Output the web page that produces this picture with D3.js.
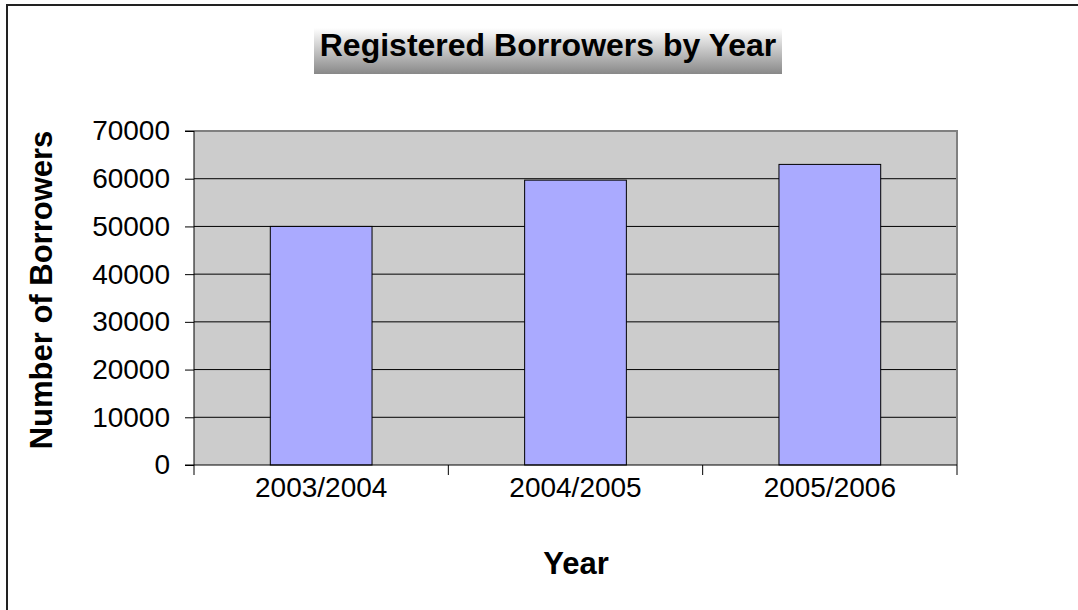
<!DOCTYPE html>
<html>
<head>
<meta charset="utf-8">
<script src="https://cdn.jsdelivr.net/npm/d3@7"></script>
<style>
  body { margin: 0; background: #fff; }
  svg { display: block; font-family: Arial, "Liberation Sans", sans-serif; }
</style>
</head>
<body>
<svg width="1078" height="610"></svg>
<script>
const width = 1078;
const height = 610;
const margin = { top: 131, right: 121, bottom: 145, left: 194 };
const innerWidth = width - margin.left - margin.right;
const innerHeight = height - margin.top - margin.bottom;

// chart data
const years = ["2003/2004", "2004/2005", "2005/2006"];
const borrowers = [50000, 59700, 63000];
const yTicks = [0, 10000, 20000, 30000, 40000, 50000, 60000, 70000];

const svg = d3.select("svg");

// outer chart frame (only top and left edges fall inside the picture)
svg.append("path")
    .attr("d", `M7,${height}V5H${width}`)
    .attr("fill", "none")
    .attr("stroke", "#222")
    .attr("stroke-width", 2);

// title box with grey gradient
const defs = svg.append("defs");
const grad = defs.append("linearGradient")
    .attr("id", "titleGrad")
    .attr("x1", 0).attr("y1", 0).attr("x2", 0).attr("y2", 1);
grad.append("stop").attr("offset", "0%").attr("stop-color", "#ffffff");
grad.append("stop").attr("offset", "100%").attr("stop-color", "#888888");

svg.append("rect")
    .attr("x", 314).attr("y", 28)
    .attr("width", 468).attr("height", 46)
    .attr("fill", "url(#titleGrad)");

svg.append("text")
    .attr("x", 548).attr("y", 56)
    .attr("text-anchor", "middle")
    .attr("font-size", 32)
    .attr("font-weight", "bold")
    .text("Registered Borrowers by Year");

const g = svg.append("g")
    .attr("transform", `translate(${margin.left}, ${margin.top})`);

const x = d3.scaleBand()
    .domain(years)
    .range([0, innerWidth])
    .paddingInner(0.6)
    .paddingOuter(0.3);

const y = d3.scaleLinear()
    .domain([0, 70000])
    .range([innerHeight, 0]);

// plot background
g.append("rect")
    .attr("width", innerWidth)
    .attr("height", innerHeight)
    .attr("fill", "#cccccc");

// gridlines
g.append("g")
    .selectAll("line")
    .data(yTicks.slice(1, -1))
    .join("line")
    .attr("x1", 0).attr("x2", innerWidth)
    .attr("y1", (d) => y(d)).attr("y2", (d) => y(d))
    .attr("stroke", "#000")
    .attr("stroke-width", 1);

// plot border top & right
g.append("path")
    .attr("d", `M0,0H${innerWidth}V${innerHeight}`)
    .attr("fill", "none")
    .attr("stroke", "#808080")
    .attr("stroke-width", 2);

// bars
g.append("g")
    .selectAll("rect")
    .data(borrowers)
    .join("rect")
    .attr("x", (d, i) => x(years[i]))
    .attr("y", (d) => y(d))
    .attr("width", x.bandwidth())
    .attr("height", (d) => innerHeight - y(d))
    .attr("fill", "#aaaaff")
    .attr("stroke", "#000")
    .attr("stroke-width", 1);

// y axis
g.append("g")
    .call(d3.axisLeft(y).tickValues(yTicks).tickSize(9).tickPadding(15).tickFormat(d3.format("d")))
    .call((a) => a.selectAll("text").attr("font-size", 28).attr("fill", "#000").attr("font-family", "Arial, 'Liberation Sans', sans-serif"))
    .call((a) => a.selectAll("line").attr("stroke", "#000"))
    .call((a) => a.select(".domain").attr("stroke", "#000").attr("d", `M-9,0H0V${innerHeight}H-9`));

// x axis: ticks at category boundaries
const xAxis = g.append("g").attr("transform", `translate(0, ${innerHeight})`);
xAxis.append("line")
    .attr("x1", 0).attr("x2", innerWidth)
    .attr("stroke", "#000");
xAxis.selectAll("line.tick")
    .data(d3.range(years.length + 1))
    .join("line")
    .attr("class", "tick")
    .attr("x1", (i) => i * innerWidth / years.length)
    .attr("x2", (i) => i * innerWidth / years.length)
    .attr("y1", 0).attr("y2", 10)
    .attr("stroke", "#000");
xAxis.selectAll("text")
    .data(years)
    .join("text")
    .attr("x", (d) => x(d) + x.bandwidth() / 2)
    .attr("y", 32)
    .attr("text-anchor", "middle")
    .attr("font-size", 28)
    .text((d) => d);

// axis titles
svg.append("text")
    .attr("x", 576).attr("y", 574)
    .attr("text-anchor", "middle")
    .attr("font-size", 31)
    .attr("font-weight", "bold")
    .text("Year");

svg.append("text")
    .attr("transform", "translate(52, 290) rotate(-90)")
    .attr("text-anchor", "middle")
    .attr("font-size", 31)
    .attr("font-weight", "bold")
    .text("Number of Borrowers");
</script>
</body>
</html>
